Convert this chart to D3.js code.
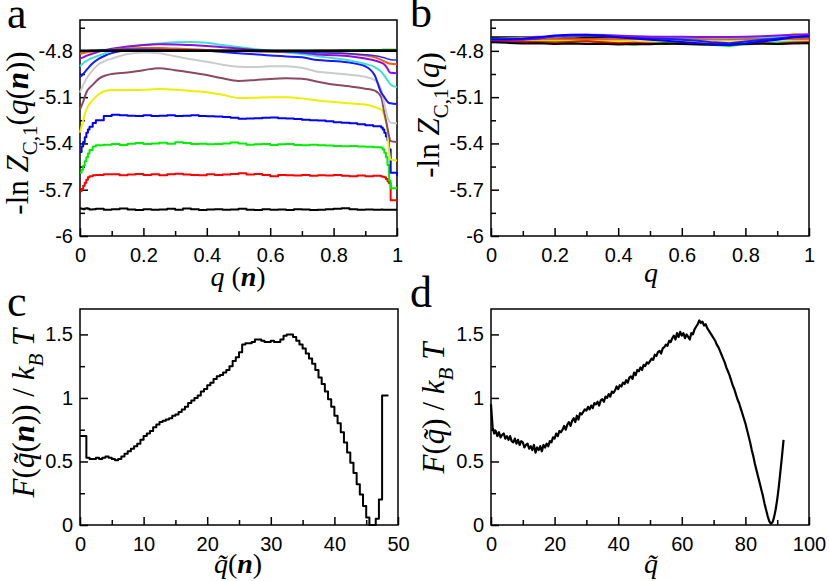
<!DOCTYPE html>
<html>
<head>
<meta charset="utf-8">
<script src="https://cdn.jsdelivr.net/npm/d3@7"></script>
<style>
  body { margin: 0; background: #fff; }
  .tick line { stroke: #000; stroke-width: 1.5; }
</style>
</head>
<body>
<svg id="chart" width="829" height="581"></svg>
<script>
var SANS = "'Liberation Sans', Arial, sans-serif";
var SERIF = "'Liberation Serif', 'Times New Roman', serif";

// ---- panel a : -ln Z(q(n)) vs q(n) ----
var qA = [0, .01, .02, .04, .06, .08, .1, .15, .2, .25, .3, .35, .4, .45, .5, .55, .6, .65, .7, .75,
          .8, .85, .9, .93, .95, .96, .97, .975, .98, 1];
var qN = [0, .005, .01, .015, .02, .025, .03, .04, .05,
          .075, .1, .125, .15, .175, .2, .225, .25, .275, .3, .325, .35, .375, .4, .425, .45, .475,
          .5, .525, .55, .575, .6, .625, .65, .675, .7, .725, .75, .775, .8, .825, .85, .875, .9, .925,
          .95, .955, .96, .965, .97, .975, .98, 1];
var qEnds = [0, 1];

var aBlack1 = [-5.822, -5.824, -5.826, -5.822, -5.820, -5.824, -5.828, -5.826, -5.824,
               -5.830, -5.826, -5.822, -5.828, -5.832, -5.826, -5.830, -5.828, -5.824, -5.830,
               -5.822, -5.826, -5.832, -5.828, -5.826, -5.830, -5.828, -5.824, -5.830, -5.832,
               -5.826, -5.830, -5.828, -5.832, -5.826, -5.828, -5.832, -5.830, -5.826, -5.824,
               -5.820, -5.826, -5.830, -5.828, -5.830,
               -5.828, -5.830, -5.830, -5.830, -5.830, -5.830, -5.830, -5.830];
var aRed = [-5.710, -5.695, -5.675, -5.655, -5.635, -5.620, -5.612, -5.606, -5.604,
            -5.600, -5.600, -5.606, -5.602, -5.598, -5.604, -5.600, -5.606, -5.600, -5.596,
            -5.602, -5.604, -5.606, -5.600, -5.604, -5.602, -5.598, -5.594, -5.602, -5.598,
            -5.604, -5.612, -5.604, -5.606, -5.608, -5.604, -5.610, -5.606, -5.608, -5.604,
            -5.610, -5.612, -5.608, -5.612, -5.610,
            -5.614, -5.616, -5.620, -5.630, -5.645, -5.658, -5.768, -5.768];
var aGreen = [-5.590, -5.570, -5.545, -5.515, -5.490, -5.465, -5.442, -5.420, -5.412,
              -5.408, -5.404, -5.410, -5.402, -5.398, -5.404, -5.400, -5.396, -5.402, -5.392,
              -5.398, -5.404, -5.402, -5.406, -5.404, -5.400, -5.394, -5.400, -5.408, -5.406,
              -5.404, -5.410, -5.406, -5.404, -5.410, -5.412, -5.408, -5.412, -5.414, -5.416,
              -5.418, -5.416, -5.420, -5.422, -5.424,
              -5.428, -5.440, -5.460, -5.490, -5.540, -5.640, -5.690, -5.690];
var aBlue = [-5.456, -5.420, -5.390, -5.360, -5.330, -5.310, -5.292, -5.268, -5.250,
             -5.222, -5.214, -5.218, -5.220, -5.222, -5.218, -5.222, -5.220, -5.218, -5.222,
             -5.220, -5.218, -5.222, -5.224, -5.226, -5.228, -5.234, -5.240, -5.238, -5.236,
             -5.234, -5.232, -5.236, -5.238, -5.242, -5.246, -5.250, -5.252, -5.256, -5.262,
             -5.266, -5.270, -5.276, -5.282, -5.288,
             -5.296, -5.310, -5.330, -5.355, -5.380, -5.440, -5.590, -5.610];
var aYellow = [-5.33, -5.25, -5.18, -5.12, -5.08, -5.06, -5.054, -5.054, -5.052, -5.048,
               -5.052, -5.060, -5.068, -5.085, -5.105, -5.104, -5.100, -5.100, -5.108, -5.122,
               -5.132, -5.140, -5.148, -5.165, -5.180, -5.220, -5.320, -5.450, -5.505, -5.510];
var aBrown = [-5.18, -5.13, -5.07, -5.02, -4.98, -4.96, -4.95, -4.94, -4.925, -4.912,
              -4.925, -4.94, -4.957, -4.978, -4.995, -4.99, -4.982, -4.978, -4.98, -5.0,
              -5.018, -5.03, -5.045, -5.058, -5.10, -5.20, -5.30, -5.355, -5.385, -5.39];
var aGrey = [-5.07, -5.02, -4.98, -4.925, -4.885, -4.865, -4.85, -4.82, -4.81, -4.815,
             -4.835, -4.855, -4.87, -4.89, -4.903, -4.905, -4.90, -4.90, -4.91, -4.935,
             -4.945, -4.955, -4.968, -4.99, -5.05, -5.14, -5.23, -5.255, -5.265, -5.27];
var aBlue2 = [-4.97, -4.95, -4.925, -4.88, -4.85, -4.83, -4.815, -4.795, -4.788, -4.787,
              -4.79, -4.795, -4.80, -4.808, -4.815, -4.822, -4.83, -4.836, -4.842, -4.86,
              -4.866, -4.876, -4.90, -4.96, -5.07, -5.10, -5.13, -5.138, -5.14, -5.145];
var aTurq = [-4.90, -4.88, -4.865, -4.845, -4.83, -4.815, -4.80, -4.78, -4.762, -4.752,
             -4.745, -4.742, -4.748, -4.762, -4.775, -4.788, -4.80, -4.81, -4.82, -4.835,
             -4.848, -4.862, -4.885, -4.905, -4.935, -4.96, -4.99, -5.005, -5.02, -5.035];
var aViolet = [-4.85, -4.842, -4.832, -4.818, -4.805, -4.795, -4.787, -4.772, -4.762, -4.757,
               -4.758, -4.762, -4.768, -4.776, -4.785, -4.794, -4.80, -4.806, -4.812, -4.824,
               -4.828, -4.835, -4.85, -4.862, -4.876, -4.888, -4.915, -4.935, -4.942, -4.945];
var aOrange = [-4.82, -4.815, -4.81, -4.805, -4.80, -4.797, -4.792, -4.786, -4.782, -4.782,
               -4.785, -4.789, -4.794, -4.798, -4.80, -4.802, -4.804, -4.806, -4.808, -4.809,
               -4.812, -4.818, -4.83, -4.842, -4.858, -4.868, -4.878, -4.882, -4.884, -4.886];
var aBlue3 = [-4.805, -4.803, -4.80, -4.797, -4.795, -4.793, -4.792, -4.79, -4.79, -4.791,
              -4.793, -4.795, -4.797, -4.80, -4.802, -4.804, -4.806, -4.808, -4.81, -4.812,
              -4.815, -4.818, -4.825, -4.832, -4.84, -4.845, -4.852, -4.855, -4.857, -4.86];
var aGreen4 = [-4.802, -4.802, -4.801, -4.80, -4.80, -4.80, -4.80, -4.80, -4.80, -4.80,
               -4.80, -4.80, -4.80, -4.80, -4.80, -4.80, -4.80, -4.80, -4.799, -4.798,
               -4.797, -4.796, -4.795, -4.794, -4.794, -4.793, -4.793, -4.793, -4.793, -4.793];
var aBlackTop = [-4.8, -4.8];

// ---- panel b : -ln Z(q) vs q ----
var qB = [0, .05, .1, .15, .2, .25, .3, .35, .4, .45, .5, .55, .6, .65, .7, .75, .8, .85, .9, .95, 1];
var bOrange = [-4.726, -4.726, -4.725, -4.724, -4.724, -4.723, -4.723, -4.724, -4.724, -4.725, -4.725,
               -4.725, -4.725, -4.726, -4.726, -4.726, -4.725, -4.725, -4.724, -4.724, -4.724];
var bBlack = [-4.745, -4.748, -4.752, -4.750, -4.755, -4.752, -4.756, -4.754, -4.758, -4.755, -4.757,
              -4.752, -4.755, -4.758, -4.760, -4.757, -4.755, -4.752, -4.755, -4.752, -4.750];
var bRed = [-4.735, -4.740, -4.742, -4.745, -4.748, -4.742, -4.738, -4.745, -4.750, -4.748, -4.752,
            -4.755, -4.750, -4.752, -4.755, -4.758, -4.755, -4.752, -4.755, -4.748, -4.745];
var bGreen = [-4.735, -4.738, -4.740, -4.742, -4.745, -4.740, -4.735, -4.745, -4.752, -4.758, -4.752,
              -4.748, -4.750, -4.755, -4.762, -4.768, -4.758, -4.752, -4.748, -4.745, -4.742];
var bBlue = [-4.725, -4.725, -4.722, -4.712, -4.700, -4.695, -4.696, -4.702, -4.712, -4.720, -4.728,
             -4.735, -4.742, -4.750, -4.758, -4.762, -4.752, -4.740, -4.728, -4.712, -4.705];
var bViolet = [-4.730, -4.728, -4.725, -4.715, -4.705, -4.698, -4.695, -4.697, -4.702, -4.706, -4.708,
               -4.708, -4.709, -4.710, -4.710, -4.710, -4.708, -4.705, -4.700, -4.695, -4.692];
var bYellow = [-4.722, -4.718, -4.725, -4.730, -4.735, -4.738, -4.735, -4.730, -4.735, -4.740, -4.742,
               -4.740, -4.738, -4.742, -4.745, -4.745, -4.740, -4.735, -4.725, -4.688, -4.702];
var bTurq = [-4.725, -4.722, -4.720, -4.716, -4.708, -4.700, -4.697, -4.696, -4.700, -4.705, -4.708,
             -4.710, -4.711, -4.713, -4.715, -4.715, -4.713, -4.711, -4.709, -4.706, -4.703];
var bGrey = [-4.732, -4.732, -4.735, -4.738, -4.740, -4.742, -4.740, -4.738, -4.742, -4.745, -4.750,
             -4.748, -4.742, -4.748, -4.752, -4.750, -4.748, -4.745, -4.742, -4.740, -4.738];
var bBrown = [-4.722, -4.718, -4.712, -4.708, -4.712, -4.714, -4.700, -4.706, -4.712, -4.716, -4.718,
              -4.718, -4.718, -4.716, -4.716, -4.718, -4.716, -4.714, -4.712, -4.712, -4.710];
var bBlue2 = [-4.728, -4.728, -4.726, -4.720, -4.706, -4.700, -4.700, -4.704, -4.710, -4.715, -4.718,
              -4.722, -4.728, -4.735, -4.745, -4.750, -4.740, -4.730, -4.720, -4.708, -4.702];
var bBlackTop = [-4.712, -4.712];

// ---- panel c : F(q~(n))/kT, histogram bins of 0.5 ----
var cVals = [0.70, 0.70, 0.53, 0.52, 0.52, 0.53, 0.52, 0.53, 0.54, 0.53,
             0.52, 0.51, 0.52, 0.54, 0.56, 0.58, 0.60, 0.62, 0.64, 0.67,
             0.70, 0.72, 0.74, 0.77, 0.79, 0.81, 0.82, 0.83, 0.84, 0.86,
             0.87, 0.89, 0.91, 0.93, 0.96, 0.98, 1.00, 1.02, 1.05, 1.07,
             1.10, 1.12, 1.15, 1.17, 1.18, 1.20, 1.22, 1.25, 1.29, 1.32,
             1.36, 1.42, 1.43, 1.43, 1.44, 1.46, 1.46, 1.45, 1.44, 1.44,
             1.45, 1.44, 1.44, 1.46, 1.49, 1.50, 1.50, 1.48, 1.45, 1.42,
             1.39, 1.35, 1.31, 1.27, 1.22, 1.16, 1.11, 1.05, 0.99, 0.93,
             0.86, 0.80, 0.73, 0.65, 0.57, 0.49, 0.41, 0.32, 0.24, 0.15,
             0.06, 0.00, 0.00, 0.05, 0.20, 1.02, 1.02];

// ---- panel d : F(q~)/kT, step 0.5 ----
var dVals = [0.95, 0.77, 0.72, 0.74, 0.70, 0.73, 0.69, 0.71, 0.72, 0.68,
             0.70, 0.67, 0.70, 0.66, 0.65, 0.68, 0.64, 0.67, 0.63, 0.66,
             0.65, 0.61, 0.63, 0.64, 0.60, 0.62, 0.59, 0.63, 0.57, 0.61,
             0.59, 0.62, 0.58, 0.63, 0.61, 0.64, 0.62, 0.66, 0.65, 0.69,
             0.68, 0.72, 0.70, 0.74, 0.73, 0.75, 0.78, 0.75, 0.79, 0.81,
             0.78, 0.82, 0.84, 0.81, 0.86, 0.83, 0.88, 0.87, 0.89, 0.91,
             0.90, 0.93, 0.91, 0.94, 0.92, 0.96, 0.95, 0.97, 0.94, 0.98,
             0.99, 0.97, 1.01, 1.00, 1.03, 1.01, 1.05, 1.04, 1.06, 1.09,
             1.07, 1.10, 1.09, 1.12, 1.11, 1.14, 1.12, 1.16, 1.17, 1.15,
             1.20, 1.18, 1.22, 1.21, 1.24, 1.22, 1.26, 1.25, 1.28, 1.27,
             1.29, 1.31, 1.30, 1.34, 1.33, 1.36, 1.37, 1.35, 1.39, 1.40,
             1.42, 1.41, 1.45, 1.44, 1.47, 1.49, 1.46, 1.51, 1.48, 1.52,
             1.49, 1.51, 1.47, 1.50, 1.48, 1.46, 1.51, 1.50, 1.54, 1.56,
             1.58, 1.61, 1.59, 1.60, 1.57, 1.58, 1.55, 1.53, 1.51, 1.49,
             1.47, 1.45, 1.42, 1.40, 1.37, 1.34, 1.31, 1.28, 1.24, 1.21,
             1.18, 1.14, 1.10, 1.07, 1.03, 0.99, 0.96, 0.92, 0.88, 0.84,
             0.80, 0.75, 0.70, 0.65, 0.59, 0.54, 0.48, 0.43, 0.38, 0.33,
             0.28, 0.23, 0.17, 0.12, 0.07, 0.03, 0.01, 0.02, 0.06, 0.12,
             0.20, 0.30, 0.42, 0.54, 0.67];

// tick values / labels
var zTicks = [-6, -5.7, -5.4, -5.1, -4.8];
var zLabels = ['-6', '-5.7', '-5.4', '-5.1', '-4.8'];
var zMinor = [-5.85, -5.55, -5.25, -4.95, -4.65];
var qTicks = [0, 0.2, 0.4, 0.6, 0.8, 1];
var qLabels = ['0', '0.2', '0.4', '0.6', '0.8', '1'];
var qMinor = [0.1, 0.3, 0.5, 0.7, 0.9];
var fTicks = [0, 0.5, 1, 1.5];
var fLabels = ['0', '0.5', '1', '1.5'];
var fMinor = [0.25, 0.75, 1.25];
var cTicks = [0, 10, 20, 30, 40, 50];
var cMinor = [5, 15, 25, 35, 45];
var dTicks = [0, 20, 40, 60, 80, 100];
var dMinor = [10, 30, 50, 70, 90];

var svg = d3.select('#chart');

function panel(p){
  var g = svg.append('g');
  var x = d3.scaleLinear().domain(p.xdom).range([p.left, p.right]);
  var y = d3.scaleLinear().domain(p.ydom).range([p.bottom, p.top]);

  var xa = g.append('g').attr('transform', 'translate(0,' + p.bottom + ')');
  xa.call(d3.axisBottom(x).tickValues(p.xminor).tickSize(-5).tickFormat(''));
  xa.append('g').call(d3.axisBottom(x).tickValues(p.xticks).tickSize(-8).tickPadding(12)
    .tickFormat(function(d, i){ return p.xlabels[i]; }));
  var ya = g.append('g').attr('transform', 'translate(' + p.left + ',0)');
  ya.call(d3.axisLeft(y).tickValues(p.yminor).tickSize(-5).tickFormat(''));
  ya.append('g').call(d3.axisLeft(y).tickValues(p.yticks).tickSize(-8).tickPadding(7)
    .tickFormat(function(d, i){ return p.ylabels[i]; }));
  g.selectAll('.domain').remove();
  g.selectAll('.tick text')
    .style('font-family', SANS).style('font-size', '20px').style('fill', '#000');

  g.append('rect')
    .attr('x', p.left).attr('y', p.top)
    .attr('width', p.right - p.left).attr('height', p.bottom - p.top)
    .attr('fill', 'none').attr('stroke', '#000').attr('stroke-width', 1.5);

  return { g: g, x: x, y: y };
}

function drawLine(pn, xs, ys, color, width, curve){
  var line = d3.line()
    .x(function(d){ return pn.x(d[0]); })
    .y(function(d){ return pn.y(d[1]); })
    .curve(curve || d3.curveLinear);
  pn.g.append('path')
    .datum(xs.map(function(v, i){ return [v, ys[i]]; }))
    .attr('d', line)
    .attr('fill', 'none')
    .attr('stroke', color)
    .attr('stroke-width', width)
    .attr('stroke-linejoin', 'round');
}

// rich text: parts = [[text, style]], style chars: i italic, b bold, s subscript
function richText(g, parts, fs){
  var t = g.append('text')
    .style('font-family', SERIF).style('font-size', fs + 'px').style('fill', '#000');
  var down = 0;
  parts.forEach(function(p){
    var st = p[1] || '';
    var s = t.append('tspan').text(p[0]);
    if(st.indexOf('i') >= 0){ s.style('font-style', 'italic'); }
    if(st.indexOf('b') >= 0){ s.style('font-weight', 'bold'); }
    var want = st.indexOf('s') >= 0 ? fs * 0.28 : 0;
    if(want){ s.style('font-size', (fs * 0.68) + 'px'); }
    if(want !== down){ s.attr('dy', want - down); down = want; }
  });
  return t;
}

function yTitle(pn, parts, bx, cy){
  richText(pn.g, parts, 31)
    .attr('text-anchor', 'middle')
    .attr('transform', 'translate(' + bx + ',' + cy + ') rotate(-90)');
}
function xTitle(pn, parts, cx, by){
  richText(pn.g, parts, 28)
    .attr('text-anchor', 'middle')
    .attr('x', cx).attr('y', by);
}

// ---------- a ----------
var pa = panel({ left: 80, right: 397, top: 20, bottom: 236,
  xdom: [0, 1], ydom: [-6, -4.6],
  xticks: qTicks, xlabels: qLabels, xminor: qMinor,
  yticks: zTicks, ylabels: zLabels, yminor: zMinor });

drawLine(pa, qN, aBlack1, '#000000', 2, d3.curveStepAfter);
drawLine(pa, qN, aRed, '#ff0000', 2, d3.curveStepAfter);
drawLine(pa, qN, aGreen, '#00ee00', 2, d3.curveStepAfter);
drawLine(pa, qN, aBlue, '#0000ff', 2, d3.curveStepAfter);
drawLine(pa, qA, aYellow, '#eeee00', 2, d3.curveMonotoneX);
drawLine(pa, qA, aBrown, '#8b4a5e', 2, d3.curveMonotoneX);
drawLine(pa, qA, aGrey, '#c8cccc', 2, d3.curveMonotoneX);
drawLine(pa, qA, aBlue2, '#1a1aff', 2, d3.curveMonotoneX);
drawLine(pa, qA, aTurq, '#40e0d0', 2, d3.curveMonotoneX);
drawLine(pa, qA, aViolet, '#8a10e0', 2, d3.curveMonotoneX);
drawLine(pa, qA, aOrange, '#ff5a00', 2, d3.curveMonotoneX);
drawLine(pa, qA, aBlue3, '#2a2aff', 1.5, d3.curveMonotoneX);
drawLine(pa, qA, aGreen4, '#008b00', 2, d3.curveMonotoneX);
drawLine(pa, qEnds, aBlackTop, '#000000', 2.5);

yTitle(pa, [['-ln ', ''], ['Z', 'i'], ['C,1', 's'], ['(', ''], ['q', 'i'], ['(', ''], ['n', 'ib'], ['))', '']], 28, 133);
xTitle(pa, [['q', 'i'], [' (', ''], ['n', 'ib'], [')', '']], 238, 286);

// ---------- b ----------
var pb = panel({ left: 491, right: 809, top: 20, bottom: 236,
  xdom: [0, 1], ydom: [-6, -4.6],
  xticks: qTicks, xlabels: qLabels, xminor: qMinor,
  yticks: zTicks, ylabels: zLabels, yminor: zMinor });

drawLine(pb, qB, bGrey, '#c8cccc', 2);
drawLine(pb, qB, bYellow, '#eeee00', 2);
drawLine(pb, qB, bGreen, '#00ee00', 2);
drawLine(pb, qB, bRed, '#ff0000', 2);
drawLine(pb, qB, bBlack, '#000000', 2);
drawLine(pb, qB, bOrange, '#ff5a00', 2);
drawLine(pb, qEnds, bBlackTop, '#000000', 2);
drawLine(pb, qB, bBrown, '#8b4a5e', 2);
drawLine(pb, qB, bTurq, '#40e0d0', 2);
drawLine(pb, qB, bBlue2, '#1a1aff', 2);
drawLine(pb, qB, bViolet, '#8a10e0', 2);
drawLine(pb, qB, bBlue, '#0000ff', 2);

yTitle(pb, [['-ln ', ''], ['Z', 'i'], ['C,1', 's'], ['(', ''], ['q', 'i'], [')', '']], 439, 115);
xTitle(pb, [['q', 'i']], 651, 282);

// ---------- c ----------
var pc = panel({ left: 80, right: 398, top: 309, bottom: 525,
  xdom: [0, 50], ydom: [0, 1.7],
  xticks: cTicks, xlabels: cTicks.map(String), xminor: cMinor,
  yticks: fTicks, ylabels: fLabels, yminor: fMinor });

var cX = d3.range(cVals.length + 1).map(function(i){ return i * 0.5; });
drawLine(pc, cX, cVals.concat([cVals[cVals.length - 1]]), '#000000', 2, d3.curveStepAfter);

yTitle(pc, [['F', 'i'], ['(', ''], ['q\u0303', 'i'], ['(', ''], ['n', 'ib'], [')) / ', ''], ['k', 'i'], ['B', 'is'], [' ', ''], ['T', 'i']], 34, 413);
xTitle(pc, [['q\u0303', 'i'], ['(', ''], ['n', 'ib'], [')', '']], 238, 573);

// ---------- d ----------
var pd = panel({ left: 491, right: 809, top: 309, bottom: 525,
  xdom: [0, 100], ydom: [0, 1.7],
  xticks: dTicks, xlabels: dTicks.map(String), xminor: dMinor,
  yticks: fTicks, ylabels: fLabels, yminor: fMinor });

var dX = d3.range(dVals.length).map(function(i){ return i * 0.5; });
drawLine(pd, dX, dVals, '#000000', 2.2);

yTitle(pd, [['F', 'i'], ['(', ''], ['q\u0303', 'i'], [') / ', ''], ['k', 'i'], ['B', 'is'], [' ', ''], ['T', 'i']], 444, 408);
xTitle(pd, [['q\u0303', 'i']], 651, 573);

// panel letters
var letters = [['a', 7, 28], ['b', 410, 27], ['c', 7, 316], ['d', 410, 307]];
letters.forEach(function(l){
  svg.append('text').attr('x', l[1]).attr('y', l[2]).text(l[0])
    .style('font-family', SERIF).style('font-size', '44px').style('fill', '#000');
});
</script>
</body>
</html>
